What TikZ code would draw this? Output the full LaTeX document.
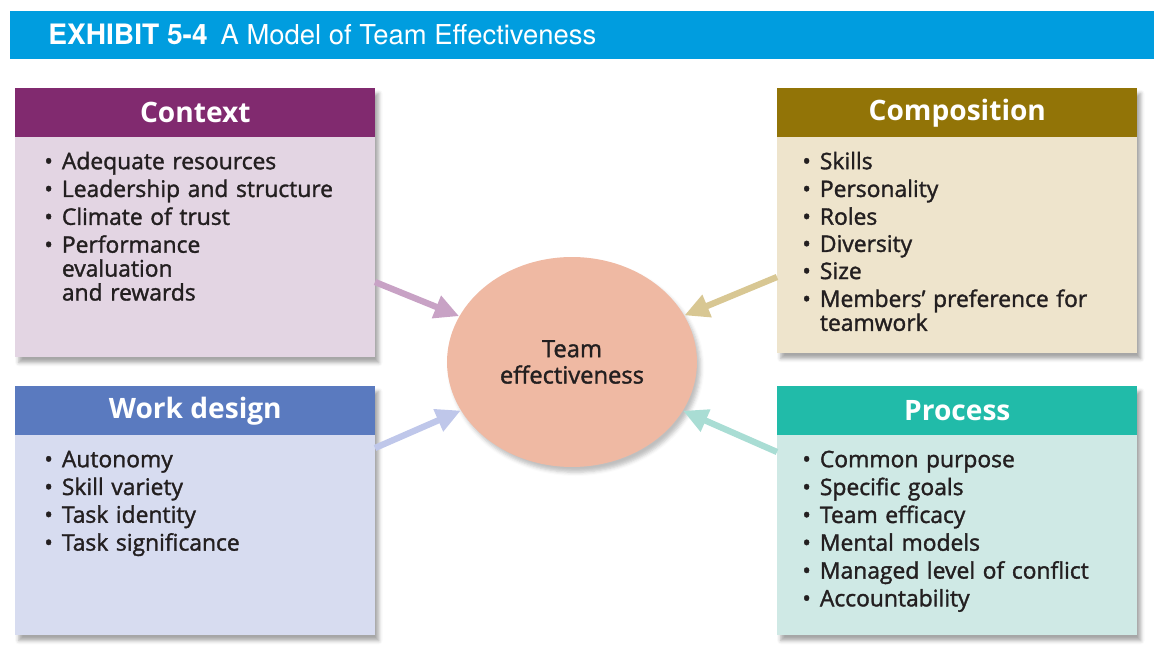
\documentclass[tikz,border=0pt]{standalone}
\usepackage{fontspec}
\setmainfont{Open Sans}
\newfontfamily\itemfont{Open Sans}[FakeBold=1.5]
\newfontfamily\titlefont{TeX Gyre Heros}
\usetikzlibrary{arrows.meta,shapes.geometric,shadows.blur}

\definecolor{exhibitblue}{HTML}{009DDF}
\definecolor{ctxhead}{HTML}{812A6F}
\definecolor{ctxbody}{HTML}{E3D5E3}
\definecolor{ctxarrow}{HTML}{C8A2C5}
\definecolor{comphead}{HTML}{927407}
\definecolor{compbody}{HTML}{EEE4CC}
\definecolor{comparrow}{HTML}{D8C793}
\definecolor{wdhead}{HTML}{5A7ABF}
\definecolor{wdbody}{HTML}{D7DCF0}
\definecolor{wdarrow}{HTML}{BFC7EA}
\definecolor{prochead}{HTML}{21BBA9}
\definecolor{procbody}{HTML}{CFE9E5}
\definecolor{procarrow}{HTML}{A9DDD4}
\definecolor{efffill}{HTML}{EFB9A3}
\definecolor{ink}{HTML}{231F20}

\newcommand{\itm}[1]{\par\noindent\makebox[10pt][l]{\textbullet}\begin{tabular}[t]{@{}l@{}}#1\end{tabular}}

\tikzset{
  boxbody/.style={rectangle, anchor=north west, minimum width=7.2cm, inner sep=0pt,
    blur shadow={shadow xshift=2pt, shadow yshift=-3pt, shadow opacity=35}},
  boxhead/.style={rectangle, anchor=north west, minimum width=7.2cm, minimum height=0.98cm,
    inner sep=0pt, text=white, font=\fontsize{16}{18}\selectfont\bfseries},
  itemlist/.style={anchor=north west, inner sep=0pt, text width=6.6cm, align=left, text=ink,
    font=\itemfont\fontsize{13}{12.4}\selectfont\setlength{\parskip}{1.2pt}},
  feed/.style={line width=3.6pt, -{Triangle[length=14pt,width=13pt]}}
}

\begin{document}
\begin{tikzpicture}[x=0.02cm, y=-0.02cm]
    \useasboundingbox (0,0) rectangle (1154,668);

    % title bar
    \node[fill=exhibitblue, anchor=north west, minimum width=22.88cm, minimum height=0.96cm, inner sep=0pt] (bar) at (10,11) {};
    \node[anchor=base west, inner sep=0pt, text=white, font=\titlefont\fontsize{16}{18}\selectfont\bfseries] (exhibit) at (48,45) {EXHIBIT 5-4};
    \node[anchor=base west, inner sep=0pt, text=white, font=\titlefont\fontsize{15.6}{18}\selectfont] (title) at ([xshift=7pt]exhibit.base east) {A Model of Team Effectiveness};

    % boxes
    \node[boxbody, fill=ctxbody, minimum height=5.38cm] (ctxbody) at (15,88) {};
    \node[boxhead, fill=ctxhead] (context) at (15,88) {Context};
    \node[itemlist] (ctxlist) at (44,145) {\itm{Adequate resources}\itm{Leadership and structure}\itm{Climate of trust}\itm{Performance\\ evaluation\\ and rewards}};

    \node[boxbody, fill=wdbody, minimum height=4.98cm] (wdbody) at (15,386) {};
    \node[boxhead, fill=wdhead] (workdesign) at (15,386) {Work design};
    \node[itemlist] (wdlist) at (44,443) {\itm{Autonomy}\itm{Skill variety}\itm{Task identity}\itm{Task significance}};

    \node[boxbody, fill=compbody, minimum height=5.3cm] (compbody) at (777,88) {};
    \node[boxhead, fill=comphead] (composition) at (777,88) {Composition};
    \node[itemlist] (complist) at (802,145) {\itm{Skills}\itm{Personality}\itm{Roles}\itm{Diversity}\itm{Size}\itm{Members’ preference for\\ teamwork}};

    \node[boxbody, fill=procbody, minimum height=4.98cm] (procbody) at (777,386) {};
    \node[boxhead, fill=prochead] (process) at (777,386) {Process};
    \node[itemlist] (proclist) at (802,443) {\itm{Common purpose}\itm{Specific goals}\itm{Team efficacy}\itm{Mental models}\itm{Managed level of conflict}\itm{Accountability}};

    % centre
    \node[ellipse, fill=efffill, minimum width=5cm, minimum height=4.2cm, inner sep=0pt, align=center, text=ink,
      font=\itemfont\fontsize{13.5}{15}\selectfont, blur shadow={shadow xshift=2pt, shadow yshift=-3pt, shadow opacity=25}] (eff) at (572,362) {Team\\effectiveness};

    \coordinate (ctxout) at (375,282);
    \coordinate (compout) at (777,277);
    \coordinate (wdout) at (375,448);
    \coordinate (procout) at (777,452);

    \draw[feed, ctxarrow] (ctxout) -- (eff);
    \draw[feed, comparrow] (compout) -- (eff);
    \draw[feed, wdarrow] (wdout) -- (eff);
    \draw[feed, procarrow] (procout) -- (eff);

\end{tikzpicture}
\end{document}
